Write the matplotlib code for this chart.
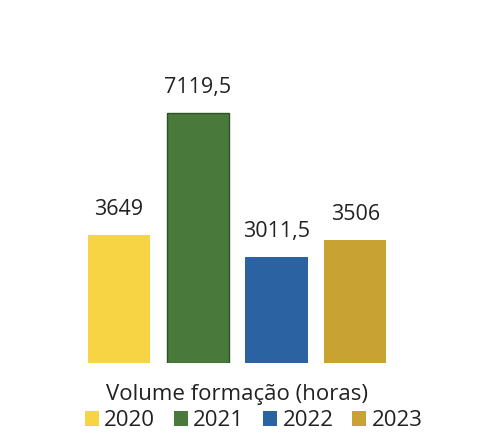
import matplotlib.pyplot as plt
from matplotlib.patches import Patch

anos = ['2020', '2021', '2022', '2023']
horas = [3649, 7119.5, 3011.5, 3506]
rotulos = ['3649', '7119,5', '3011,5', '3506']
cores = ['#f6d443', '#4a7a3b', '#2b63a2', '#c9a234']

plt.rcParams['font.family'] = ['Open Sans', 'DejaVu Sans']

fig = plt.figure(figsize=(4.86, 4.41), dpi=100)
ax = fig.add_axes([0.164, 0.177, 0.648, 0.637])

x = range(len(anos))
barras = ax.bar(x, horas, width=0.79, color=cores)
barras[1].set_edgecolor('#2c5324')
barras[1].set_linewidth(1.0)

for b, txt in zip(barras, rotulos):
    ax.annotate(txt, (b.get_x() + b.get_width() / 2, b.get_height()),
                xytext=(0, 11), textcoords='offset points',
                ha='center', va='bottom', fontsize=15.5, color='#222222')

ax.set_xlim(-0.5, 3.5)
ax.set_ylim(0, 8000)
ax.axis('off')

# legenda
fig.text(0.218, 0.105, 'Volume formação (horas)', fontsize=16,
         color='#222222', va='center', ha='left')
handles = [Patch(facecolor=c, label=a) for c, a in zip(cores, anos)]
fig.legend(handles=handles, loc='center', bbox_to_anchor=(0.522, 0.046),
           ncol=4, frameon=False, fontsize=16, handlelength=0.62,
           handleheight=0.62, handletextpad=0.25, columnspacing=0.85,
           labelcolor='#222222')

fig.savefig('out.png', dpi=100, facecolor='white')
